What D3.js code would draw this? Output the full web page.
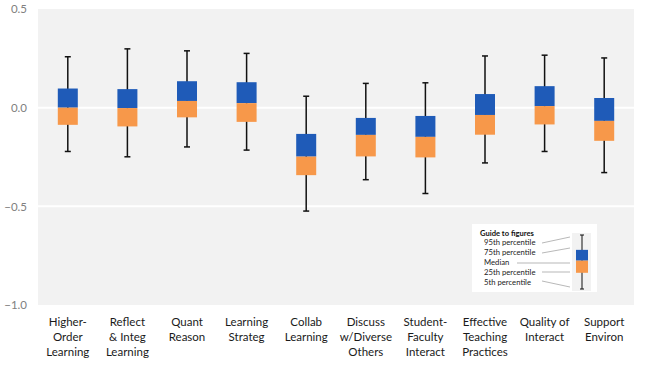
<!DOCTYPE html>
<html><head><meta charset="utf-8">
<script src="https://cdn.jsdelivr.net/npm/d3@7"></script>
<style>body{margin:0;background:#fff}svg{display:block}</style>
</head><body><svg id="c" width="648" height="365"></svg>
<script>
const categories = ["Higher-\nOrder\nLearning","Reflect\n& Integ\nLearning","Quant\nReason","Learning\nStrateg","Collab\nLearning","Discuss\nw/Diverse\nOthers","Student-\nFaculty\nInteract","Effective\nTeaching\nPractices","Quality of\nInteract","Support\nEnviron"];
const p95 = [0.258, 0.298, 0.288, 0.275, 0.058, 0.123, 0.126, 0.262, 0.266, 0.252];
const p75 = [0.097, 0.094, 0.134, 0.129, -0.133, -0.052, -0.042, 0.069, 0.109, 0.049];
const median = [0.000, -0.002, 0.034, 0.023, -0.248, -0.138, -0.148, -0.037, 0.008, -0.067];
const p25 = [-0.087, -0.095, -0.049, -0.072, -0.342, -0.247, -0.252, -0.137, -0.085, -0.168];
const p5 = [-0.222, -0.249, -0.199, -0.215, -0.524, -0.365, -0.435, -0.280, -0.222, -0.329];
const yTicks = [0.5, 0.0, -0.5, -1.0];
const guideTitle = "Guide to figures";
const guideLabels = ["95th percentile","75th percentile","Median","25th percentile","5th percentile"];

const svg = d3.select("#c");
const L = 38, R = 634, T = 9, B = 305;
const x = d3.scaleBand().domain(categories).range([L, R]);
const y = d3.scaleLinear().domain([-1, 0.5]).range([B, T]);
const blue = "#1F5BB8", orange = "#F7984A";
const font = "Lato, 'Open Sans', sans-serif";

svg.append("rect").attr("x", L).attr("y", T).attr("width", R - L).attr("height", B - T).attr("fill", "#F2F2F2");
svg.append("g").selectAll("line").data(yTicks.filter(v => v > -1 && v < 0.5)).join("line")
  .attr("x1", L).attr("x2", R).attr("y1", d => y(d)).attr("y2", d => y(d))
  .attr("stroke", "#fff").attr("stroke-width", 2);

const yAxis = svg.append("g").attr("transform", `translate(${L},0)`)
  .call(d3.axisLeft(y).tickValues(yTicks).tickFormat(d3.format(".1f")).tickSize(0).tickPadding(11));
yAxis.select(".domain").remove();
yAxis.selectAll("text").attr("fill", "#808080").attr("font-family", font).attr("font-size", 11.5);

const data = categories.map((c, i) => ({c, p95: p95[i], p75: p75[i], med: median[i], p25: p25[i], p5: p5[i]}));
const bw = 20, cap = 5;
const g = svg.append("g").selectAll("g").data(data).join("g")
  .attr("transform", d => `translate(${x(d.c) + x.bandwidth() / 2},0)`);
g.append("line").attr("x1", 0).attr("x2", 0).attr("y1", d => y(d.p95)).attr("y2", d => y(d.p5)).attr("stroke", "#111").attr("stroke-width", 1.5);
g.append("line").attr("x1", -cap / 2 - 0.5).attr("x2", cap / 2 + 0.5).attr("y1", d => y(d.p95)).attr("y2", d => y(d.p95)).attr("stroke", "#111").attr("stroke-width", 1.5);
g.append("line").attr("x1", -cap / 2 - 0.5).attr("x2", cap / 2 + 0.5).attr("y1", d => y(d.p5)).attr("y2", d => y(d.p5)).attr("stroke", "#111").attr("stroke-width", 1.5);
g.append("rect").attr("x", -bw / 2).attr("width", bw).attr("y", d => y(d.p75)).attr("height", d => y(d.med) - y(d.p75)).attr("fill", blue);
g.append("rect").attr("x", -bw / 2).attr("width", bw).attr("y", d => y(d.med)).attr("height", d => y(d.p25) - y(d.med)).attr("fill", orange);

// x labels
const xl = svg.append("g").selectAll("text").data(categories).join("text")
  .attr("text-anchor", "middle").attr("font-family", font).attr("font-size", 11.5).attr("fill", "#1a1a1a")
  .attr("transform", d => `translate(${x(d) + x.bandwidth() / 2},326)`);
xl.selectAll("tspan").data(d => d.split("\n")).join("tspan").attr("x", 0).attr("dy", (d, i) => i === 0 ? 0 : 15).text(d => d);

// guide legend
const lg = svg.append("g");
lg.append("rect").attr("x", 472).attr("y", 224).attr("width", 125).attr("height", 68).attr("fill", "#fff");
lg.append("rect").attr("x", 572).attr("y", 233).attr("width", 19).attr("height", 58).attr("fill", "#F2F2F2");
const gy = d3.scaleLinear().domain([0, 4]).range([235, 289]);
const gVals = [0, 1.1, 1.9, 2.8, 4];
const mx = 582;
lg.append("line").attr("x1", mx).attr("x2", mx).attr("y1", gy(gVals[0])).attr("y2", gy(gVals[4])).attr("stroke", "#111").attr("stroke-width", 1);
[gVals[0], gVals[4]].forEach(v => lg.append("line").attr("x1", mx - 2).attr("x2", mx + 2).attr("y1", gy(v)).attr("y2", gy(v)).attr("stroke", "#111").attr("stroke-width", 1));
lg.append("rect").attr("x", mx - 6).attr("width", 12).attr("y", gy(gVals[1])).attr("height", gy(gVals[2]) - gy(gVals[1])).attr("fill", blue);
lg.append("rect").attr("x", mx - 6).attr("width", 12).attr("y", gy(gVals[2])).attr("height", gy(gVals[3]) - gy(gVals[2])).attr("fill", orange);
lg.append("text").attr("x", 480).attr("y", 236).attr("font-family", font).attr("font-size", 7.6).attr("font-weight", "bold").attr("fill", "#111").text(guideTitle);
const ly = [245, 255, 265, 275, 285];
lg.selectAll("text.gl").data(guideLabels).join("text").attr("class", "gl")
  .attr("x", 484).attr("y", (d, i) => ly[i]).attr("font-family", font).attr("font-size", 7.7).attr("fill", "#222").text(d => d);
const leaders = [[542, 243, 570, 237], [542, 253, 570, 248], [517, 263, 570, 263], [542, 272, 570, 272], [542, 281, 570, 287]];
lg.selectAll("line.ld").data(leaders).join("line").attr("class", "ld")
  .attr("x1", d => d[0]).attr("y1", d => d[1]).attr("x2", d => d[2]).attr("y2", d => d[3]).attr("stroke", "#999").attr("stroke-width", 0.7);
</script></body></html>
